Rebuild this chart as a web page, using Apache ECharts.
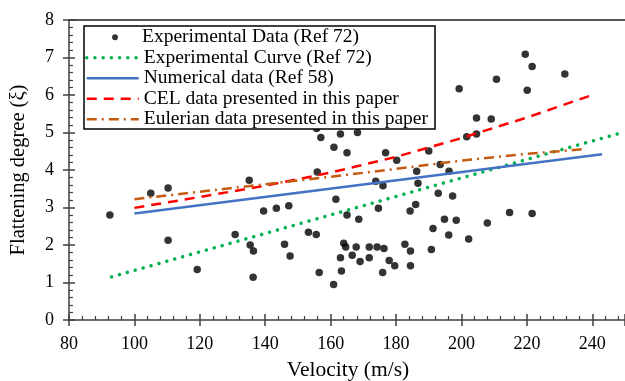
<!DOCTYPE html>
<html>
<head>
<meta charset="utf-8">
<script src="https://cdn.jsdelivr.net/npm/echarts@6/dist/echarts.min.js"></script>
<style>html,body{margin:0;padding:0;background:#fff;}#c{width:625px;height:381px;}</style>
</head>
<body>
<div id="c"></div>
<script>
// Experimental data (Ref 72): [velocity, flattening degree]
var expData = [
 [92.5,2.8],[105.0,3.38],[110.3,3.52],[110.3,2.13],[119.2,1.35],[130.8,2.28],
 [135.1,3.73],[135.4,2.0],[136.4,1.84],[136.3,1.14],[139.5,2.91],[143.4,2.98],
 [147.2,3.05],[145.9,2.02],[147.6,1.71],[153.2,2.34],[155.6,2.28],[156.5,1.27],
 [155.7,5.11],[157.0,4.87],[155.9,3.95],[163.0,4.96],[168.2,5.0],[161.0,4.61],
 [165.0,4.46],[176.8,4.46],[180.2,4.26],[190.0,4.51],[193.5,4.15],[196.2,3.97],
 [186.3,3.97],[186.7,3.65],[173.8,3.70],[176.0,3.58],[161.6,3.22],[192.9,3.38],
 [197.3,3.31],[201.6,4.89],[204.6,4.96],[204.6,5.39],[209.1,5.36],[199.3,6.17],
 [210.7,6.42],[219.5,7.09],[221.6,6.76],[220.1,6.13],[231.6,6.56],[174.6,2.98],
 [186.0,3.08],[184.3,2.91],[165.0,2.8],[168.6,2.69],[194.8,2.69],[198.4,2.66],
 [191.3,2.44],[196.1,2.27],[202.2,2.16],[207.9,2.59],[214.7,2.87],[221.6,2.84],
 [160.9,0.95],[164.0,2.05],[164.6,1.95],[163.0,1.66],[163.3,1.31],[166.6,1.73],
 [167.8,1.95],[169.0,1.56],[171.8,1.95],[171.8,1.66],[174.2,1.95],[176.3,1.91],
 [175.9,1.27],[177.9,1.59],[179.6,1.45],[182.7,2.02],[184.4,1.84],[184.4,1.45],
 [190.8,1.88]
];
// Experimental curve (Ref 72)
var expCurve = [[93,1.15],[250,5.02]];
// Numerical data (Ref 58)
var numData = [[100,2.84],[243,4.42]];
// CEL data presented in this paper
var celData = [[100,2.99],[120,3.28],[140,3.58],[160,3.93],[180,4.35],[200,4.85],[220,5.4],[240,6.0]];
// Eulerian data presented in this paper
var eulData = [[100,3.22],[120,3.42],[140,3.62],[160,3.82],[180,4.03],[200,4.25],[220,4.43],[238,4.56]];

var names = ['Experimental Data (Ref 72)','Experimental Curve (Ref 72)','Numerical data (Ref 58)','CEL data presented in this paper','Eulerian data presented in this paper'];
var xTitle = 'Velocity (m/s)';
var yTitle = 'Flattening degree (ξ)';
var xTicks = {min:80, max:250, interval:20};
var yTicks = {min:0, max:8, interval:1};

var FONT = 'Liberation Serif';
var AX = '#404040';
var chart = echarts.init(document.getElementById('c'), null, {renderer:'canvas'});
var grid = {left:68, right:-1, top:20, bottom:61};
var legendText = {fontSize:19.5, fontFamily:FONT, color:'#000', lineHeight:20.5};
chart.setOption({
  animation:false,
  backgroundColor:'#fff',
  grid: grid,
  xAxis:[
    {type:'value', min:xTicks.min, max:xTicks.max, interval:xTicks.interval,
     axisLine:{show:true, onZero:false, lineStyle:{color:AX, width:1.5}},
     axisTick:{show:true, inside:true, length:6, lineStyle:{color:AX, width:1.5}},
     minorTick:{show:true, splitNumber:5, length:4, lineStyle:{color:AX, width:1.2}},
     splitLine:{show:false},
     axisLabel:{margin:15, fontSize:18, color:'#000', fontFamily:FONT, showMaxLabel:false}},
    {type:'value', min:xTicks.min, max:xTicks.max, interval:xTicks.interval, position:'bottom',
     axisLine:{show:false, onZero:false}, axisTick:{show:true, inside:false, length:6, lineStyle:{color:AX, width:1.5}},
     axisLabel:{show:false}, splitLine:{show:false}},
    {type:'value', min:xTicks.min, max:xTicks.max, position:'top',
     axisLine:{show:true, onZero:false, lineStyle:{color:'#555', width:2}},
     axisTick:{show:false}, axisLabel:{show:false}, splitLine:{show:false}}
  ],
  yAxis:[
    {type:'value', min:yTicks.min, max:yTicks.max, interval:yTicks.interval,
     axisLine:{show:true, onZero:false, lineStyle:{color:AX, width:1.5}},
     axisTick:{show:true, inside:true, length:6, lineStyle:{color:AX, width:1.5}},
     minorTick:{show:true, splitNumber:5, length:4, lineStyle:{color:AX, width:1.2}},
     splitLine:{show:false},
     axisLabel:{margin:15, fontSize:18, color:'#000', fontFamily:FONT},
     name:yTitle, nameLocation:'middle', nameGap:40, nameRotate:90,
     nameTextStyle:{fontSize:20.5, color:'#000', fontFamily:FONT}},
    {type:'value', min:yTicks.min, max:yTicks.max, interval:yTicks.interval, position:'left',
     axisLine:{show:false, onZero:false}, axisTick:{show:true, inside:false, length:6, lineStyle:{color:AX, width:1.5}},
     axisLabel:{show:false}, splitLine:{show:false}}
  ],
  legend:[
    {data:[{name:names[0], icon:'path://M0,0 M52,12 M27.1,6 A2.9,2.9 0 1,1 32.9,6 A2.9,2.9 0 1,1 27.1,6 Z'}],
     orient:'vertical', left:85, top:27, padding:0, itemWidth:52, itemHeight:12,
     itemStyle:{color:'#000'}, textStyle:legendText},
    {data:[
       {name:names[1], lineStyle:{width:3.5}},
       {name:names[2], lineStyle:{width:2.5}},
       {name:names[3], lineStyle:{width:2.5}},
       {name:names[4], lineStyle:{width:2.5}}
     ], orient:'vertical', left:85, top:47.5, padding:0, itemGap:0, itemWidth:52, itemHeight:1,
     textStyle:legendText}
  ],
  graphic:[
    {type:'rect', z:3, shape:{x:84, y:26, width:351, height:103}, style:{fill:'#fff', stroke:'#000', lineWidth:1.5}},
    {type:'text', z:3, x:348, y:370, style:{text:xTitle, fontSize:21.5, fontFamily:FONT, fill:'#000', align:'center', verticalAlign:'middle'}}
  ],
  series:[
    {name:names[0], type:'scatter', data:expData, symbol:'circle', symbolSize:7.5,
     itemStyle:{color:'#000'}, z:2},
    {name:names[1], type:'line', data:expCurve, symbol:'none', z:3,
     lineStyle:{color:'#00B050', width:3.5, type:[0.01,8.2], cap:'round'}, itemStyle:{color:'#00B050'}},
    {name:names[2], type:'line', data:numData, symbol:'none', z:3,
     lineStyle:{color:'#4472C4', width:2.5}, itemStyle:{color:'#4472C4'}},
    {name:names[3], type:'line', data:celData, symbol:'none', z:3,
     lineStyle:{color:'#FF0000', width:2.5, type:[10,7]}, itemStyle:{color:'#FF0000'}},
    {name:names[4], type:'line', data:eulData, symbol:'none', z:3,
     lineStyle:{color:'#C55A11', width:2.5, type:[10,5,2,5]}, itemStyle:{color:'#C55A11'}}
  ]
});
</script>
</body>
</html>
